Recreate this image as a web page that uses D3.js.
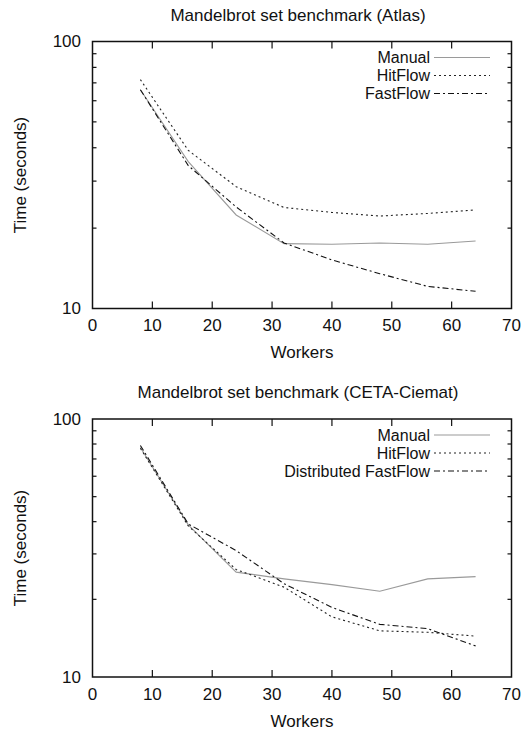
<!DOCTYPE html>
<html>
<head>
<meta charset="utf-8">
<script src="https://cdn.jsdelivr.net/npm/d3@7"></script>
<style>
  body { margin: 0; background: #fff; }
  text { font-family: "Liberation Sans", Arial, sans-serif; fill: #111; }
</style>
</head>
<body>
<div id="chart"></div>
<script>
var width = 529,
    height = 738;

// data
var workers = [8, 16, 24, 32, 40, 48, 56, 64];

var atlasManual   = [66, 35.5, 22.4, 17.5, 17.4, 17.6, 17.4, 17.9];
var atlasHitFlow  = [72, 39.1, 28.6, 23.9, 22.9, 22.2, 22.7, 23.4];
var atlasFastFlow = [66, 34.3, 24.0, 17.6, 15.2, 13.5, 12.1, 11.6];

var cetaManual  = [77.5, 38.9, 25.5, 24.0, 22.8, 21.5, 24.0, 24.5];
var cetaHitFlow = [77, 38.5, 26.1, 22.3, 17.1, 15.1, 14.9, 14.4];
var cetaDFF     = [79, 39.2, 30.9, 23.0, 18.6, 16.0, 15.4, 13.2];

var xTicks = [0, 10, 20, 30, 40, 50, 60, 70];
var yMajor = [10, 100];
var yMinor = [20, 30, 40, 50, 60, 70, 80, 90];

var styles = {
    manual: { stroke: "#9a9a9a", dash: null },
    hit:    { stroke: "#222", dash: "2,3" },
    fast:   { stroke: "#111", dash: "6,3,2,3" }
};

var panels = [
    {
        title: "Mandelbrot set benchmark (Atlas)",
        top: 41.5, bottom: 308.5,
        series: [
            { name: "Manual", values: atlasManual, style: styles.manual },
            { name: "HitFlow", values: atlasHitFlow, style: styles.hit },
            { name: "FastFlow", values: atlasFastFlow, style: styles.fast }
        ]
    },
    {
        title: "Mandelbrot set benchmark (CETA-Ciemat)",
        top: 419, bottom: 677,
        series: [
            { name: "Manual", values: cetaManual, style: styles.manual },
            { name: "HitFlow", values: cetaHitFlow, style: styles.hit },
            { name: "Distributed FastFlow", values: cetaDFF, style: styles.fast }
        ]
    }
];

var left = 92.5,
    right = 511.5,
    fontSize = 17,
    legendFont = 16;

var svg = d3.select("#chart")
    .append("svg")
    .attr("width", width)
    .attr("height", height);

panels.forEach(function(p) {
    var x = d3.scaleLinear().domain([0, 70]).range([left, right]);
    var y = d3.scaleLog().domain([10, 100]).range([p.bottom, p.top]);

    var g = svg.append("g");

    // title
    g.append("text")
        .attr("x", 298)
        .attr("y", p.top - 26.5)
        .attr("dy", "0.35em")
        .attr("text-anchor", "middle")
        .style("font-size", fontSize + "px")
        .text(p.title);

    // ticks, mirrored on all sides
    var ticks = g.append("g").attr("stroke", "#111").attr("stroke-width", 1.2);
    xTicks.slice(1, -1).forEach(function(t) {
        ticks.append("line").attr("x1", x(t)).attr("x2", x(t)).attr("y1", p.bottom).attr("y2", p.bottom - 7);
        ticks.append("line").attr("x1", x(t)).attr("x2", x(t)).attr("y1", p.top).attr("y2", p.top + 7);
    });
    yMinor.forEach(function(t) {
        ticks.append("line").attr("x1", left).attr("x2", left + 4).attr("y1", y(t)).attr("y2", y(t));
        ticks.append("line").attr("x1", right).attr("x2", right - 4).attr("y1", y(t)).attr("y2", y(t));
    });

    // tick labels
    xTicks.forEach(function(t) {
        g.append("text")
            .attr("x", x(t))
            .attr("y", p.bottom + 17)
            .attr("dy", "0.35em")
            .attr("text-anchor", "middle")
            .style("font-size", fontSize + "px")
            .text(t);
    });
    yMajor.forEach(function(t) {
        g.append("text")
            .attr("x", 81)
            .attr("y", y(t))
            .attr("dy", "0.35em")
            .attr("text-anchor", "end")
            .style("font-size", fontSize + "px")
            .text(t);
    });

    // axis titles
    g.append("text")
        .attr("x", x(35))
        .attr("y", p.bottom + 44)
        .attr("dy", "0.35em")
        .attr("text-anchor", "middle")
        .style("font-size", fontSize + "px")
        .text("Workers");

    g.append("text")
        .attr("transform", "translate(20," + ((p.top + p.bottom) / 2) + ") rotate(-90)")
        .attr("dy", "0.35em")
        .attr("text-anchor", "middle")
        .style("font-size", fontSize + "px")
        .text("Time (seconds)");

    // lines
    var line = d3.line()
        .x(function(d, i) { return x(workers[i]); })
        .y(function(d) { return y(d); });

    p.series.forEach(function(s, i) {
        g.append("path")
            .datum(s.values)
            .attr("d", line)
            .attr("fill", "none")
            .attr("stroke", s.style.stroke)
            .attr("stroke-width", 1.1)
            .attr("stroke-dasharray", s.style.dash);

        // legend
        var ly = p.top + 16 + i * 18;
        g.append("text")
            .attr("x", 430)
            .attr("y", ly)
            .attr("dy", "0.35em")
            .attr("text-anchor", "end")
            .style("font-size", legendFont + "px")
            .text(s.name);
        g.append("line")
            .attr("x1", 434).attr("x2", 490)
            .attr("y1", ly).attr("y2", ly)
            .attr("stroke", s.style.stroke)
            .attr("stroke-width", 1.1)
            .attr("stroke-dasharray", s.style.dash);
    });

    // frame
    g.append("rect")
        .attr("x", left)
        .attr("y", p.top)
        .attr("width", right - left)
        .attr("height", p.bottom - p.top)
        .attr("fill", "none")
        .attr("stroke", "#111")
        .attr("stroke-width", 1.5);
});
</script>
</body>
</html>
